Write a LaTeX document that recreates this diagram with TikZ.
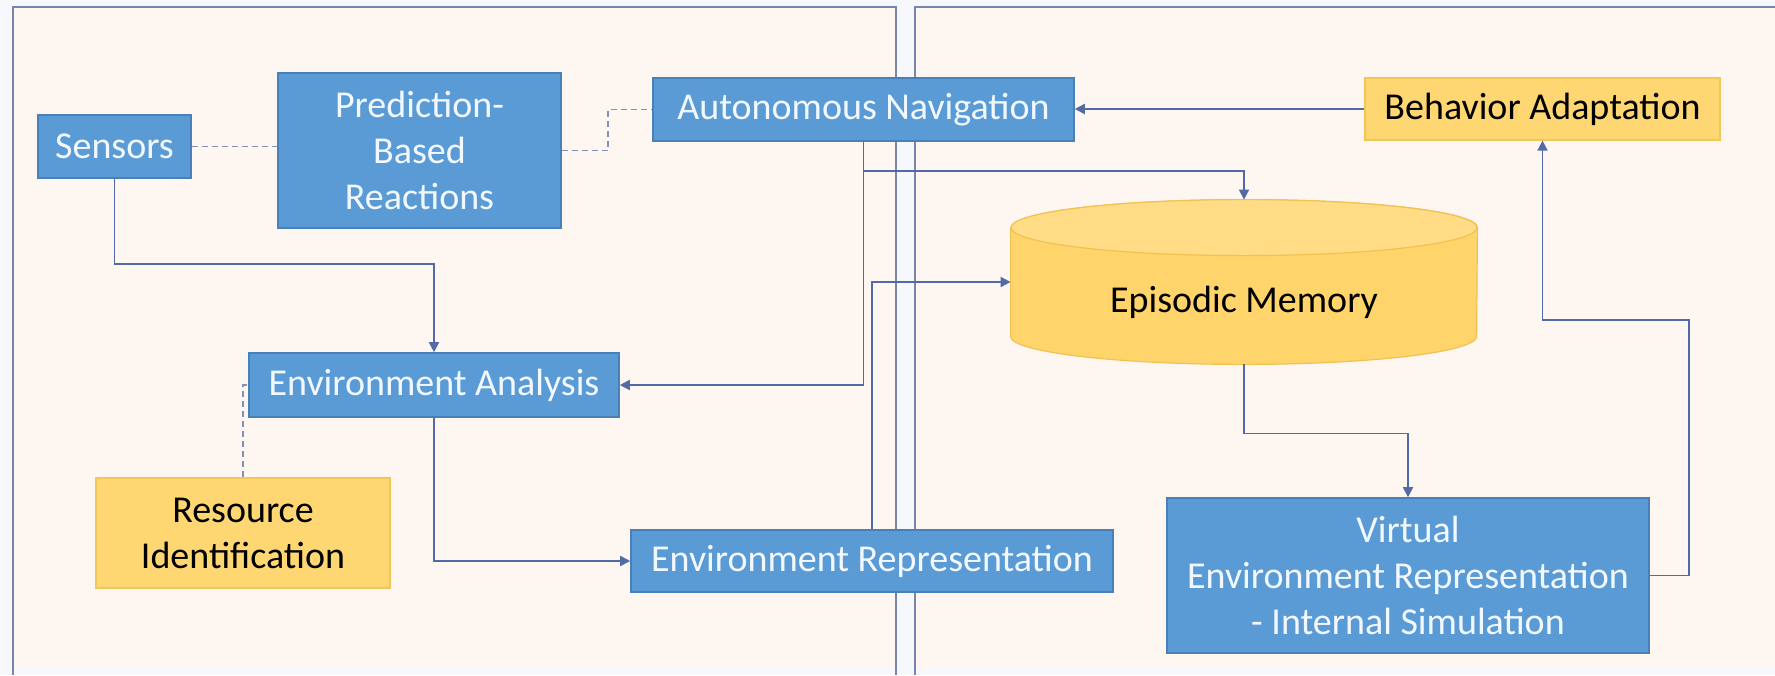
\documentclass[tikz,border=0pt]{standalone}
\usepackage{fontspec}
\setmainfont{Carlito}
\usetikzlibrary{arrows.meta,calc}
\definecolor{pagebg}{HTML}{F6F8FB}
\definecolor{panelbg}{HTML}{FDF6F1}
\definecolor{panelline}{HTML}{7886AD}
\definecolor{boxblue}{HTML}{5B9BD5}
\definecolor{boxblueline}{HTML}{4A80B8}
\definecolor{boxtext}{HTML}{F2F8FF}
\definecolor{boxyellow}{HTML}{FFD772}
\definecolor{boxyellowline}{HTML}{F2C75A}
\definecolor{cylbody}{HTML}{FFD46A}
\definecolor{cyltop}{HTML}{FFDC85}
\definecolor{cylline}{HTML}{F0C252}
\definecolor{wire}{HTML}{5369A8}
\definecolor{dashwire}{HTML}{8391B5}
\begin{document}
\begin{tikzpicture}[x=0.5pt,y=-0.5pt,
  every node/.style={font=\fontsize{19}{23}\selectfont, align=center, inner sep=0pt},
  bluebox/.style={draw=boxblueline, line width=0.8pt, fill=boxblue, text=boxtext},
  yellowbox/.style={draw=boxyellowline, line width=0.6pt, fill=boxyellow, text=black},
  flow/.style={draw=wire, line width=0.9pt, -{Triangle[length=5pt,width=5pt]}},
  link/.style={draw=dashwire, line width=0.9pt, dash pattern=on 3pt off 2pt},
  frame/.style={draw=panelline, line width=1.2pt}]

% page and the two panels
\fill[pagebg] (0,0) rectangle (1775,675);
\useasboundingbox (0,0) rectangle (1775,675);
\fill[panelbg] (13,7) rectangle (896,667);
\fill[panelbg] (915,7) rectangle (1775,667);
\draw[frame] (13,675) -- (13,7) -- (896,7) -- (896,675);
\draw[frame] (1775,7) -- (915,7) -- (915,675);

% left panel blocks
\node[bluebox, minimum width=76.5pt, minimum height=31.5pt] (sens) at (114.5,146.5) {Sensors};
\node[bluebox, minimum width=141.5pt, minimum height=77.5pt] (pred) at (419.5,150.5) {Prediction-\\Based\\Reactions};
\node[bluebox, minimum width=210.5pt, minimum height=31.5pt] (nav) at (863.5,109.5) {Autonomous Navigation};
\node[bluebox, minimum width=185pt, minimum height=32pt] (ana) at (434,385) {Environment Analysis};
\node[yellowbox, minimum width=147pt, minimum height=55pt] (res) at (243,533) {Resource\\Identification};
\node[bluebox, minimum width=241pt, minimum height=31pt] (rep) at (872,561) {Environment Representation};

% right panel blocks
\node[yellowbox, minimum width=177.5pt, minimum height=31pt] (beh) at (1542.5,109) {Behavior Adaptation};
\node[bluebox, minimum width=241pt, minimum height=77.5pt] (virt) at (1408,575.5) {Virtual\\Environment Representation\\- Internal Simulation};

% episodic memory store (cylinder)
\node[minimum width=233pt, minimum height=82pt] (mem) at (1244,282) {};
\filldraw[fill=cylbody, draw=cylline, line width=0.6pt]
  ($(mem.north west)+(0,28)$) -- ($(mem.south west)+(0,-28)$)
  arc[start angle=180, end angle=360, x radius=116.5pt, y radius=14pt]
  -- ($(mem.north east)+(0,28)$)
  arc[start angle=0, end angle=180, x radius=116.5pt, y radius=14pt] -- cycle;
\filldraw[fill=cyltop, draw=cylline, line width=0.6pt]
  ($(mem.north)+(0,28)$) ellipse[x radius=116.5pt, y radius=14pt];
\node[text=black] (memtext) at (1244,302) {Episodic Memory};

% dashed associations
\draw[link] (sens.east) -- (sens.east -| pred.west);
\draw[link] (pred.east) -- ++(46,0) |- (nav.west);
\draw[link] (res.north) |- (ana.west);

% information flow
\draw[flow] (beh.west) -- (beh.west -| nav.east);
\draw[flow] (nav.south) |- (ana.east);
\draw[flow] (nav.south) -- ++(0,29) -| (mem.north);
\draw[flow] (rep.north) |- (mem.west);
\draw[flow] (ana.south) |- (rep.west);
\draw[flow] (sens.south) -- ++(0,85) -| (ana.north);
\draw[flow] (mem.south) -- ++(0,69) -| (virt.north);
\draw[flow] (virt.east) -- ++(39,0) |- ($(beh.south)+(0,179)$) -- (beh.south);
\end{tikzpicture}
\end{document}
